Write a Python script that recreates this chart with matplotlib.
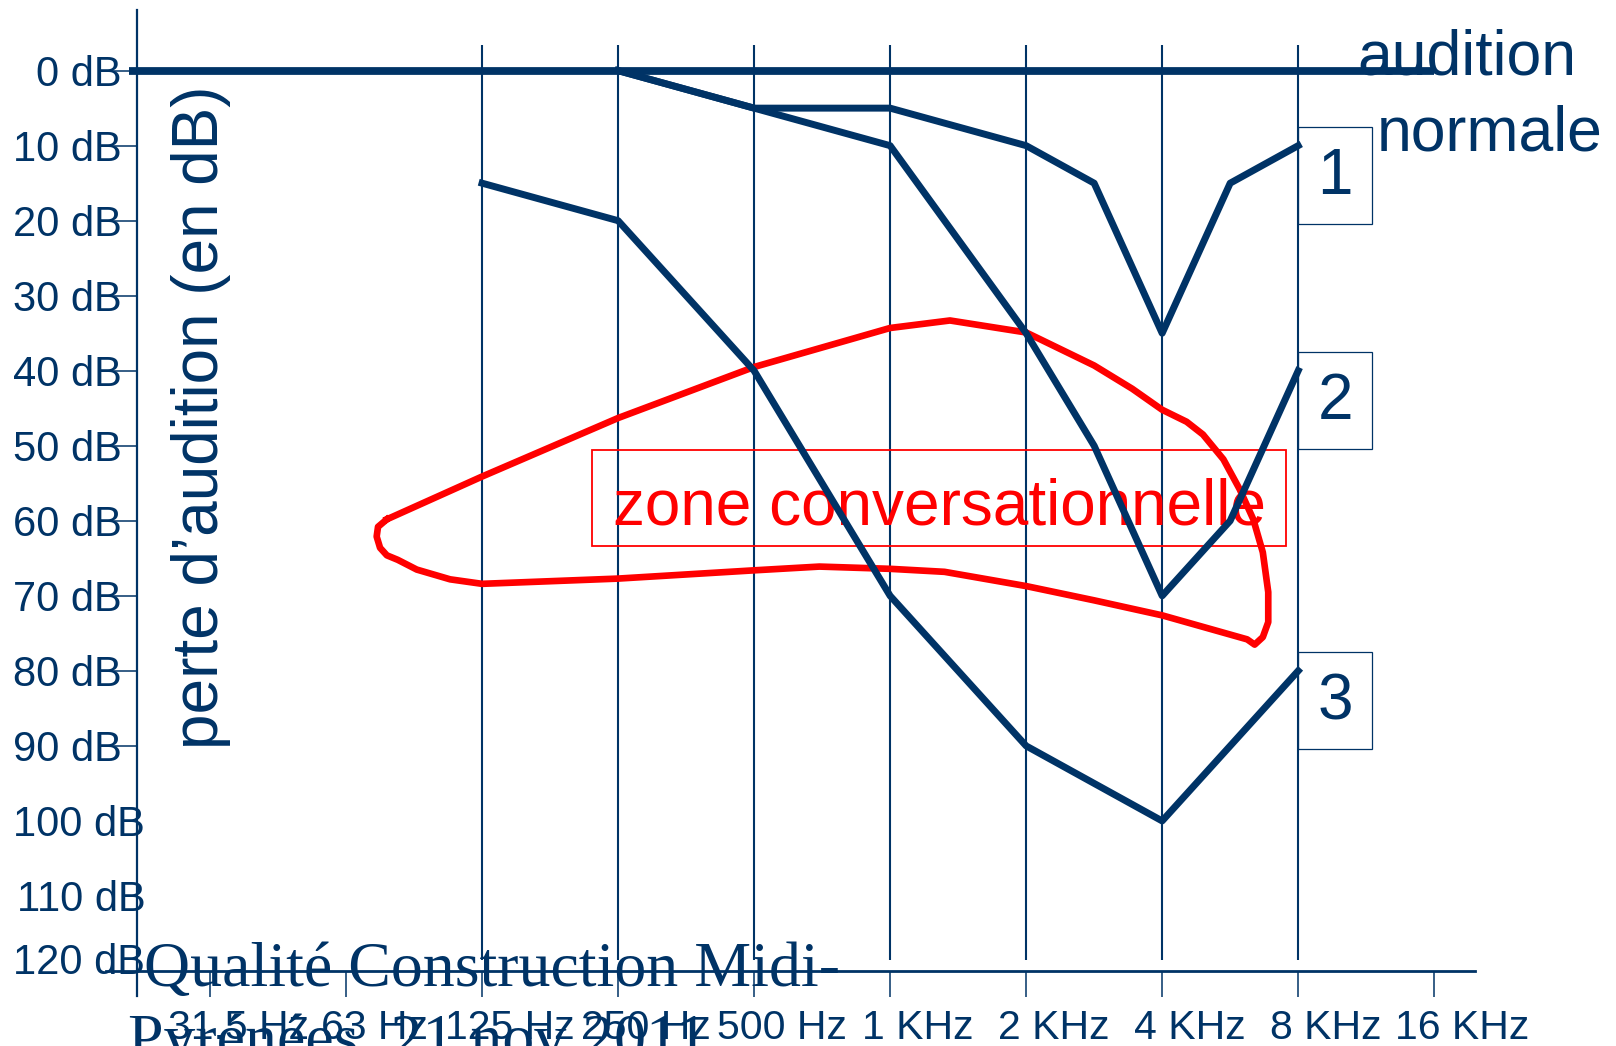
import matplotlib.pyplot as plt
from matplotlib.patches import Rectangle
from matplotlib.transforms import ScaledTranslation

plt.rcParams['font.family'] = ['Liberation Sans', 'DejaVu Sans']

navy = '#003366'
red = '#ff0000'

# x = octave index, 0 = 31.5 Hz ... 9 = 16 KHz
freq_labels = ['31.5 Hz', '63 Hz', '125 Hz', '250 Hz', '500 Hz',
               '1 KHz', '2 KHz', '4 KHz', '8 KHz', '16 KHz']
grid_octaves = [2, 3, 4, 5, 6, 7, 8]
db_major = [0, 10, 20, 30, 40, 50, 60, 70, 80, 90]
db_minor = [100, 110, 120]

# hearing loss curves
curve1_x = [3, 4, 5, 6, 6.5, 7, 7.5, 8]
curve1_db = [0, 5, 5, 10, 15, 35, 15, 10]
curve2_x = [3, 5, 6, 6.5, 7, 7.5, 8]
curve2_db = [0, 10, 35, 50, 70, 60, 40]
curve3_x = [2, 3, 4, 5, 6, 6.5, 7, 8]
curve3_db = [15, 20, 40, 70, 90, 95, 100, 80]
curve_names = ['1', '2', '3']

# speech zone outline (closed)
zone_x = [1.30, 2.0, 3.0, 4.0, 5.0, 5.44, 6.0, 6.5, 6.78, 7.0, 7.18, 7.30,
          7.45, 7.57, 7.67, 7.74, 7.78, 7.78, 7.74, 7.68, 7.625, 7.0, 6.5,
          6.0, 5.40, 5.0, 4.48, 4.0, 3.0, 2.0, 1.765, 1.52, 1.38, 1.30,
          1.25, 1.225, 1.235, 1.30]
zone_db = [59.8, 54.1, 46.3, 39.5, 34.3, 33.3, 34.9, 39.3, 42.4, 45.2, 46.8,
           48.5, 51.8, 55.8, 59.8, 64.2, 69.5, 73.5, 75.5, 76.5, 75.8, 72.6,
           70.6, 68.7, 66.8, 66.4, 66.1, 66.6, 67.7, 68.4, 67.8, 66.5, 65.2,
           64.6, 63.6, 62.1, 60.8, 59.8]

fig = plt.figure(figsize=(16.16, 10.46), dpi=100)
ax = fig.add_axes([137 / 1616, 75 / 1046, 1338 / 1616, 961 / 1046])
x0, x1 = -0.537, 9.30
ax.set_xlim(x0, x1)
ax.set_ylim(120, -8.08)
for s in ax.spines.values():
    s.set_visible(False)

# axis lines drawn a bit past the corner like the original
ax.axvline(x0, ymin=-0.026, ymax=1, color=navy, lw=1.6, clip_on=False)
ax.axhline(120, xmin=-0.023, xmax=1, color=navy, lw=2, clip_on=False)

ax.vlines(grid_octaves, -3.42, 118.5, color=navy, lw=1.5)

# ticks
ax.set_xticks(range(len(freq_labels)), freq_labels)
ax.tick_params(axis='x', length=18.7, width=1.1, color=navy, pad=9,
               labelsize=29.5, labelcolor=navy)
shift = ScaledTranslation(0.28, 0, fig.dpi_scale_trans)
for lab in ax.get_xticklabels():
    lab.set_transform(lab.get_transform() + shift)

ax.set_yticks(db_major, [f'{v} dB' for v in db_major])
ax.set_yticks(db_minor, [f'{v} dB' for v in db_minor], minor=True)
ax.tick_params(axis='y', which='major', length=23, width=1.1, color=navy,
               pad=-12, labelsize=30, labelcolor=navy)
ax.tick_params(axis='y', which='minor', length=0, pad=-6,
               labelsize=30, labelcolor=navy)
up = ScaledTranslation(0, 0.13, fig.dpi_scale_trans)
last = ax.get_yticklabels(minor=True)[-1]
last.set_transform(last.get_transform() + up)

# normal hearing line
ax.hlines(0, x0 - 0.06, len(freq_labels) - 1, color=navy, lw=5.6,
          clip_on=False, zorder=4)
ax.text(9.24, 0.45, 'audition', ha='center', va='baseline', fontsize=45,
        color=navy)
ax.text(9.41, 10.6, 'normale', ha='center', va='baseline', fontsize=45,
        color=navy)

# speech zone
zx, zy = 5.36, 58.2
ax.text(zx, zy, 'zone conversationnelle', color=red, fontsize=46,
        ha='center', va='center', zorder=2)
ax.add_patch(Rectangle((zx - 2.55, zy - 7.7), 5.10, 12.9, fill=False,
                       ec=red, lw=1.3, zorder=2))
ax.plot(zone_x, zone_db, color=red, lw=4.8, zorder=3, clip_on=False)

# audiograms
curves = [(curve1_x, curve1_db), (curve2_x, curve2_db), (curve3_x, curve3_db)]
for (cx, cy), name in zip(curves, curve_names):
    ax.plot(cx, cy, color=navy, lw=5, zorder=5)
    ax.add_patch(Rectangle((cx[-1], cy[-1] - 2.5), 0.544, 12.9, fill=False,
                           ec=navy, lw=0.9, clip_on=False))
    ax.text(cx[-1] + 0.272, cy[-1] + 4.2, name, ha='center', va='center',
            fontsize=46, color=navy)

ax.text(0.06, 46.2, 'perte d’audition (en dB)', rotation=90,
        rotation_mode='anchor', ha='center', va='baseline', fontsize=46,
        color=navy)

fig.text(144 / 1616, 60 / 1046, 'Qualité Construction Midi-',
         family='Liberation Serif', fontsize=46, color=navy, va='baseline')
fig.text(128 / 1616, -12 / 1046, 'Pyrénées  21 nov 2011',
         family='Liberation Serif', fontsize=46, color=navy, va='baseline')

fig.savefig('out.png', dpi=100)
